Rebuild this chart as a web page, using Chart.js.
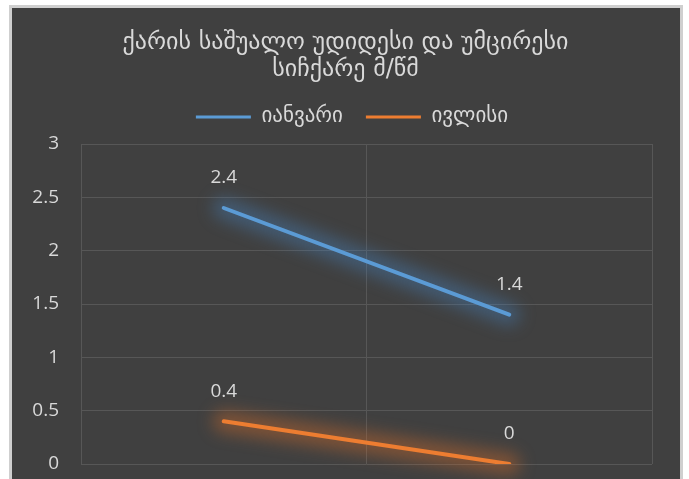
<!DOCTYPE html>
<html>
<head>
<meta charset="utf-8">
<script src="https://cdn.jsdelivr.net/npm/chart.js@4.4.1/dist/chart.umd.min.js"></script>
<style>
  html, body { margin: 0; padding: 0; background: #ffffff; overflow: hidden; }
  .frame {
    position: absolute; left: 9px; top: 5px; width: 674px; height: 530px;
    background: #cfcfcf;
  }
  .chart-box {
    position: absolute; left: 12px; top: 8px; width: 668px; height: 516px;
    background: #404040;
  }
</style>
</head>
<body>
<div class="frame"></div>
<div class="chart-box"><canvas id="windChart"></canvas></div>
<script>
// Chart data
const titleLines = ['ქარის საშუალო უდიდესი და უმცირესი', 'სიჩქარე მ/წმ'];
const categories = ['უდიდესი', 'უმცირესი'];
const seriesNames = ['იანვარი', 'ივლისი'];
const januaryValues = [2.4, 1.4];
const julyValues = [0.4, 0];
const seriesColors = ['#5B9BD5', '#ED7D31'];
const glowColors = ['rgba(70, 130, 190, 0.4)', 'rgba(220, 110, 40, 0.4)'];

const textColor = '#d9d9d9';
const gridColor = '#575757';
const geoFont = "'DejaVu Sans', sans-serif";
const numFont = "'Open Sans', 'Liberation Sans', sans-serif";

// blurred wide stroke under each line, like the Excel glow effect
const glowPlugin = {
    id: 'glow',
    beforeDatasetDraw(chart, args) {
        const pts = args.meta.data;
        if (pts.length < 2) return;
        const ctx = chart.ctx;
        ctx.save();
        ctx.filter = 'blur(8px)';
        ctx.strokeStyle = glowColors[args.index];
        ctx.lineWidth = 22;
        ctx.lineCap = 'round';
        ctx.beginPath();
        pts.forEach((p, j) => j === 0 ? ctx.moveTo(p.x, p.y) : ctx.lineTo(p.x, p.y));
        ctx.stroke();
        ctx.restore();
    }
};

// value labels above points
const valueLabels = {
    id: 'valueLabels',
    afterDatasetsDraw(chart) {
        const ctx = chart.ctx;
        ctx.save();
        ctx.fillStyle = textColor;
        ctx.font = '19px ' + numFont;
        ctx.textAlign = 'center';
        ctx.textBaseline = 'middle';
        chart.data.datasets.forEach((ds, i) => {
            chart.getDatasetMeta(i).data.forEach((pt, j) => {
                ctx.fillText(String(ds.data[j]), pt.x, pt.y - 30);
            });
        });
        ctx.restore();
    }
};

// centre title/legend on the whole box and lift the legend a little
const placeBlocks = {
    id: 'placeBlocks',
    afterLayout(chart) {
        chart.titleBlock.left = 0;
        chart.titleBlock.right = 667;
        chart.legend.left = 0;
        chart.legend.right = 680;
        chart.legend.top -= 6.5;
        chart.legend.bottom -= 6.5;
    }
};

const ctx = document.getElementById('windChart');
new Chart(ctx, {
    type: 'line',
    data: {
        labels: categories,
        datasets: [
            {
                label: seriesNames[0],
                data: januaryValues,
                borderColor: seriesColors[0],
                backgroundColor: seriesColors[0],
                borderWidth: 4,
                pointRadius: 0,
                borderCapStyle: 'round'
            },
            {
                label: seriesNames[1],
                data: julyValues,
                borderColor: seriesColors[1],
                backgroundColor: seriesColors[1],
                borderWidth: 4,
                pointRadius: 0,
                borderCapStyle: 'round'
            }
        ]
    },
    options: {
        responsive: true,
        maintainAspectRatio: false,
        animation: false,
        layout: {
            padding: { top: 0, right: 28, left: 0, bottom: 0 }
        },
        plugins: {
            title: {
                display: true,
                text: titleLines,
                color: textColor,
                font: { family: geoFont, size: 24, weight: 'normal', lineHeight: 1.125 },
                padding: { top: 21.5, bottom: 6.5 }
            },
            legend: {
                display: true,
                labels: {
                    color: textColor,
                    font: { family: geoFont, size: 21 },
                    boxWidth: 55,
                    boxHeight: 3,
                    padding: 23,
                    generateLabels(chart) {
                        const items = Chart.defaults.plugins.legend.labels.generateLabels(chart);
                        items.forEach(it => { it.lineWidth = 0; });
                        return items;
                    }
                }
            },
            tooltip: { enabled: false }
        },
        scales: {
            x: {
                offset: true,
                afterFit(scale) { scale.height = 60; },
                grid: { color: gridColor, offset: true, drawTicks: false },
                border: { display: false },
                ticks: { color: textColor, font: { family: geoFont, size: 18 }, padding: 20 }
            },
            y: {
                min: 0,
                max: 3,
                afterFit(scale) { scale.width = 69; },
                grid: { color: gridColor, drawTicks: false },
                border: { display: false },
                ticks: {
                    stepSize: 0.5,
                    color: textColor,
                    font: { family: numFont, size: 19 },
                    padding: 22,
                    callback: value => String(value)
                }
            }
        }
    },
    plugins: [glowPlugin, valueLabels, placeBlocks]
});
</script>
</body>
</html>
